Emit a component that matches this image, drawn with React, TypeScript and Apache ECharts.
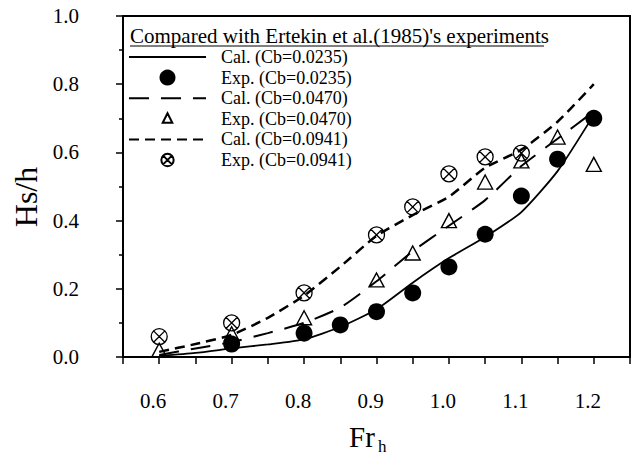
import React, { useEffect, useRef } from "react";
import * as echarts from "echarts";

// ---- data ----
const calX = [0.6, 0.65, 0.7, 0.75, 0.8, 0.85, 0.9, 0.95, 1.0, 1.05, 1.1, 1.15, 1.2];
const calLowY = [0.003, 0.012, 0.025, 0.037, 0.052, 0.088, 0.14, 0.218, 0.29, 0.352, 0.425, 0.545, 0.71];
const calMidY = [0.006, 0.025, 0.044, 0.07, 0.1, 0.145, 0.222, 0.31, 0.385, 0.46, 0.56, 0.64, 0.72];
const calHighY = [0.015, 0.038, 0.065, 0.115, 0.18, 0.265, 0.355, 0.416, 0.47, 0.555, 0.608, 0.69, 0.8];

const expLowX = [0.7, 0.8, 0.85, 0.9, 0.95, 1.0, 1.05, 1.1, 1.15, 1.2];
const expLowY = [0.038, 0.07, 0.094, 0.133, 0.188, 0.264, 0.36, 0.472, 0.58, 0.7];
const expMidX = [0.6, 0.7, 0.8, 0.9, 0.95, 1.0, 1.05, 1.1, 1.15, 1.2];
const expMidY = [0.02, 0.068, 0.115, 0.226, 0.305, 0.4, 0.513, 0.575, 0.645, 0.565];
const expHighX = [0.6, 0.7, 0.8, 0.9, 0.95, 1.0, 1.05, 1.1];
const expHighY = [0.06, 0.1, 0.188, 0.358, 0.44, 0.537, 0.587, 0.598];

const seriesNames = [
  "Cal. (Cb=0.0235)",
  "Exp. (Cb=0.0235)",
  "Cal. (Cb=0.0470)",
  "Exp. (Cb=0.0470)",
  "Cal. (Cb=0.0941)",
  "Exp. (Cb=0.0941)",
];
const xTickLabels = ["0.6", "0.7", "0.8", "0.9", "1.0", "1.1", "1.2"];
const yTickLabels = ["0.0", "0.2", "0.4", "0.6", "0.8", "1.0"];
const legendTitle = "Compared with Ertekin et al.(1985)'s experiments";
const yTitle = "Hs/h";
const xTitleMain = "Fr";
const xTitleSub = "h";

const FONT = "Liberation Serif, Times New Roman, serif";
const zip = (xs: number[], ys: number[]) => xs.map((x, i) => [x, ys[i]]);

const OTIMES =
  "path://M0 10A10 10 0 1 1 20 10A10 10 0 1 1 0 10ZM2.93 2.93L17.07 17.07M17.07 2.93L2.93 17.07";
const TRI = "path://M10 0L20 18L0 18Z";
// legend icons with invisible padding so that they draw smaller
const OTIMES_LEGEND =
  "path://M-3 -3M23 23M0 10A10 10 0 1 1 20 10A10 10 0 1 1 0 10ZM2.93 2.93L17.07 17.07M17.07 2.93L2.93 17.07";
const TRI_LEGEND = "path://M0 0M20 20M10 3L16 15L4 15Z";

export default function App() {
  const ref = useRef<HTMLDivElement>(null);
  useEffect(() => {
    if (!ref.current) return;
    const chart = echarts.init(ref.current, undefined, { renderer: "svg" });
    const lineCommon = (name: string, ys: number[], type: any, width: number) => ({
      name,
      type: "line",
      data: zip(calX, ys),
      symbol: "none",
      smooth: 0.2,
      lineStyle: { color: "#000", width, type },
      itemStyle: { color: "#000" },
      z: 2,
    });
    const legendData = seriesNames.map((n, i) => {
      if (n.startsWith("Cal"))
        return { name: n, itemStyle: { color: "rgba(0,0,0,0)", borderColor: "rgba(0,0,0,0)", borderWidth: 0 } };
      if (i === 3) return { name: n, icon: TRI_LEGEND };
      if (i === 5) return { name: n, icon: OTIMES_LEGEND };
      return { name: n };
    });
    const option: any = {
      animation: false,
      backgroundColor: "#fff",
      grid: { left: 123, top: 16, right: 7, bottom: 100, show: true, borderColor: "#000", borderWidth: 2, backgroundColor: "transparent" },
      xAxis: {
        type: "value",
        min: 0.55,
        max: 1.25,
        interval: 0.05,
        axisLine: { lineStyle: { color: "#000", width: 2 } },
        axisTick: { length: 7, lineStyle: { color: "#000", width: 1.5 } },
        splitLine: { show: false },
        axisLabel: {
          margin: 33,
          color: "#000",
          fontFamily: FONT,
          fontSize: 21,
          padding: [0, 12, 0, 0],
          formatter: (v: number) => {
            const s = (Math.round(v * 100) / 100).toFixed(2);
            if (s.endsWith("0")) {
              const t = (Math.round(v * 10) / 10).toFixed(1);
              return xTickLabels.includes(t) ? t : "";
            }
            return "";
          },
        },
      },
      yAxis: {
        type: "value",
        min: 0,
        max: 1,
        interval: 0.2,
        axisLine: { show: true, lineStyle: { color: "#000", width: 2 } },
        axisTick: { show: true, length: 7, lineStyle: { color: "#000", width: 1.5 } },
        minorTick: { show: true, splitNumber: 2, length: 4, lineStyle: { color: "#000", width: 1.5 } },
        splitLine: { show: false },
        axisLabel: {
          margin: 44,
          color: "#000",
          fontFamily: FONT,
          fontSize: 21,
          formatter: (v: number) => {
            const t = v.toFixed(1);
            return yTickLabels.includes(t) ? t : "";
          },
        },
      },
      legend: {
        orient: "vertical",
        left: 128,
        top: 48,
        padding: 0,
        itemWidth: 77,
        itemHeight: 16,
        itemGap: 2.6,
        selectedMode: false,
        textStyle: { color: "#000", fontFamily: FONT, fontSize: 18, padding: [0, 0, 0, 10] },
        data: legendData,
      },
      graphic: [
        {
          type: "text",
          left: 130,
          top: 25,
          style: { text: legendTitle, fontFamily: FONT, fontSize: 21, fill: "#000" },
        },
        {
          type: "line",
          shape: { x1: 130, y1: 46, x2: 544, y2: 46 },
          style: { stroke: "#000", lineWidth: 1.2 },
        },
        {
          type: "text",
          x: 26,
          y: 197,
          rotation: Math.PI / 2,
          style: { text: yTitle, fontFamily: FONT, fontSize: 32, fill: "#000", align: "center", verticalAlign: "middle" },
        },
        {
          type: "text",
          x: 349,
          y: 422,
          style: { text: xTitleMain, fontFamily: FONT, fontSize: 29, fill: "#000" },
        },
        {
          type: "text",
          x: 378,
          y: 438,
          style: { text: xTitleSub, fontFamily: FONT, fontSize: 17, fill: "#000" },
        },
      ],
      series: [
        lineCommon(seriesNames[0], calLowY, "solid", 1.8),
        {
          name: seriesNames[1],
          type: "scatter",
          data: zip(expLowX, expLowY),
          symbol: "circle",
          symbolSize: 17,
          itemStyle: { color: "#000", opacity: 1 },
          z: 3,
        },
        lineCommon(seriesNames[2], calMidY, [20, 12], 2),
        {
          name: seriesNames[3],
          type: "scatter",
          data: zip(expMidX, expMidY),
          symbol: TRI,
          symbolSize: [15, 14],
          itemStyle: { color: "rgba(0,0,0,0)", borderColor: "#000", borderWidth: 1.4, opacity: 1 },
          z: 3,
        },
        lineCommon(seriesNames[4], calHighY, [10, 6], 2.5),
        {
          name: seriesNames[5],
          type: "scatter",
          data: zip(expHighX, expHighY),
          symbol: OTIMES,
          symbolSize: 16,
          itemStyle: { color: "rgba(0,0,0,0)", borderColor: "#000", borderWidth: 1.3, opacity: 1 },
          z: 3,
        },
      ],
    };
    chart.setOption(option);
    return () => chart.dispose();
  }, []);
  return <div ref={ref} style={{ position: "absolute", left: 0, top: 0, width: 637, height: 457 }} />;
}
